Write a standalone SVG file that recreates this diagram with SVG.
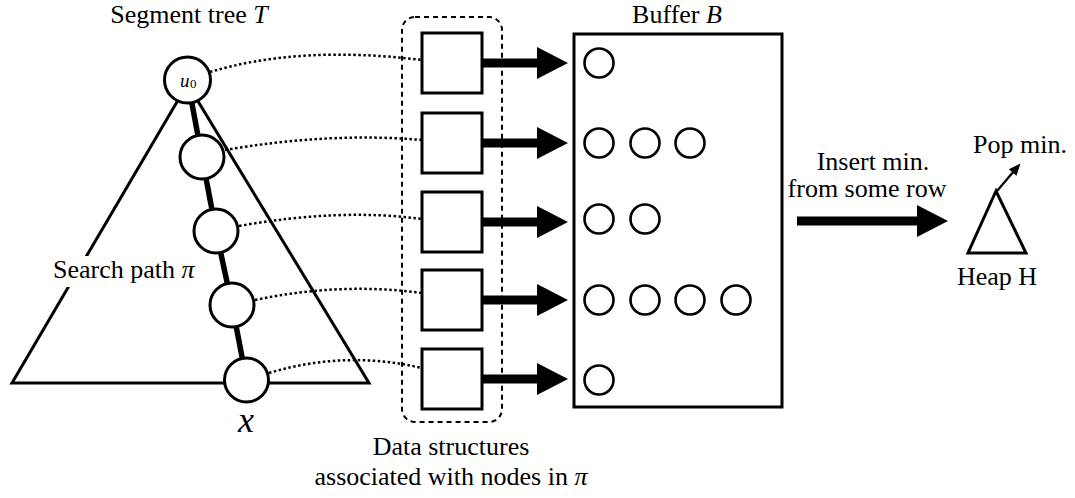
<svg xmlns="http://www.w3.org/2000/svg" width="1075" height="498" viewBox="0 0 1075 498">
<style>
  text { font-family: "Liberation Serif", "Times New Roman", serif; font-size: 26px; fill: #000; }
  .it { font-style: italic; }
  .tri { fill: none; stroke: #000; stroke-width: 3; stroke-linejoin: miter; }
  .pathln { stroke: #000; stroke-width: 5.5; }
  .tnode { fill: #fff; stroke: #000; stroke-width: 3; }
  .sq { fill: #fff; stroke: #000; stroke-width: 3; }
  .buf { fill: #fff; stroke: #000; stroke-width: 3; }
  .bc { fill: none; stroke: #000; stroke-width: 2.6; }
  .dot { fill: none; stroke: #000; stroke-width: 2.5; stroke-dasharray: 2.5 2.5; }
  .dash { fill: none; stroke: #000; stroke-width: 2; stroke-dasharray: 5 4; }
  .fat { stroke: #000; stroke-width: 9; fill: none; }
  .thin { stroke: #000; stroke-width: 2.2; fill: none; }
</style>
<defs>
  <marker id="head" markerUnits="userSpaceOnUse" markerWidth="31" markerHeight="32" refX="0" refY="16" orient="auto" overflow="visible">
    <path d="M0,0 L31,16 L0,32 Z" fill="#000"/>
  </marker>
  <marker id="small" markerUnits="userSpaceOnUse" markerWidth="12" markerHeight="10" refX="2" refY="5" orient="auto" overflow="visible">
    <path d="M0,0 L12,5 L0,10 Z" fill="#000"/>
  </marker>
</defs>
<rect width="1075" height="498" fill="#fff"/>

<!-- Segment tree -->
<g id="tree">
  <text x="189" y="23" text-anchor="middle">Segment tree <tspan class="it">T</tspan></text>
  <path class="tri" d="M187.5,84 L12,383 L369,383 Z"/>
  <rect x="48" y="256" width="150" height="31" fill="#fff"/>
  <text x="53" y="278">Search path <tspan class="it">π</tspan></text>
</g>

<!-- connectors -->
<g id="connectors">
  <line class="pathln" x1="187.5" y1="80" x2="202" y2="157"/>
  <line class="pathln" x1="202" y1="157" x2="216" y2="231"/>
  <line class="pathln" x1="216" y1="231" x2="232" y2="305"/>
  <line class="pathln" x1="232" y1="305" x2="246.5" y2="380"/>

  <path class="dot" d="M210,72 Q300,45 422,60"/>
  <path class="dot" d="M225,150 Q330,132 422,140"/>
  <path class="dot" d="M239,226 Q340,208 422,219"/>
  <path class="dot" d="M255,300 Q340,282 422,293"/>
  <path class="dot" d="M269,373 Q345,350 422,368"/>

  <line class="fat" x1="482" y1="63" x2="537" y2="63" marker-end="url(#head)"/>
  <line class="fat" x1="482" y1="143" x2="537" y2="143" marker-end="url(#head)"/>
  <line class="fat" x1="482" y1="222" x2="537" y2="222" marker-end="url(#head)"/>
  <line class="fat" x1="482" y1="300" x2="537" y2="300" marker-end="url(#head)"/>
  <line class="fat" x1="482" y1="379" x2="537" y2="379" marker-end="url(#head)"/>

  <line class="fat" x1="797" y1="221" x2="917" y2="221" marker-end="url(#head)"/>
  <line class="thin" x1="997" y1="191" x2="1014" y2="171" marker-end="url(#small)"/>
</g>

<!-- tree nodes -->
<g id="node-u0">
  <circle class="tnode" cx="187.5" cy="80" r="23"/>
  <text x="180" y="87" class="it" style="font-size:19px">u</text>
  <text x="190" y="88" style="font-size:13px">0</text>
</g>
<g id="node-1"><circle class="tnode" cx="202" cy="157" r="22"/></g>
<g id="node-2"><circle class="tnode" cx="216" cy="231" r="22"/></g>
<g id="node-3"><circle class="tnode" cx="232" cy="305" r="22"/></g>
<g id="node-x">
  <circle class="tnode" cx="246.5" cy="380" r="22"/>
  <text x="246" y="432" text-anchor="middle" class="it" style="font-size:36px">x</text>
</g>

<!-- data structures -->
<g id="data-structures">
  <rect class="dash" x="402" y="17" width="100" height="405" rx="13" ry="13"/>
  <rect class="sq" x="422" y="33" width="60" height="60"/>
  <rect class="sq" x="422" y="113" width="60" height="60"/>
  <rect class="sq" x="422" y="192" width="60" height="60"/>
  <rect class="sq" x="422" y="270" width="60" height="60"/>
  <rect class="sq" x="422" y="349" width="60" height="60"/>
  <text x="451" y="455" text-anchor="middle">Data structures</text>
  <text x="451" y="485" text-anchor="middle">associated with nodes in <tspan class="it">π</tspan></text>
</g>

<!-- buffer -->
<g id="buffer">
  <rect class="buf" x="574" y="34" width="208" height="373"/>
  <text x="677" y="23" text-anchor="middle">Buffer <tspan class="it">B</tspan></text>
  <circle class="bc" cx="599" cy="63" r="14.5"/>
  <circle class="bc" cx="599" cy="143" r="14.5"/>
  <circle class="bc" cx="645" cy="143" r="14.5"/>
  <circle class="bc" cx="690" cy="143" r="14.5"/>
  <circle class="bc" cx="599" cy="219" r="14.5"/>
  <circle class="bc" cx="645" cy="219" r="14.5"/>
  <circle class="bc" cx="599" cy="300" r="14.5"/>
  <circle class="bc" cx="645" cy="300" r="14.5"/>
  <circle class="bc" cx="690" cy="300" r="14.5"/>
  <circle class="bc" cx="736" cy="300" r="14.5"/>
  <circle class="bc" cx="599" cy="380" r="14.5"/>
</g>

<g id="insert-label">
  <text x="873" y="170" text-anchor="middle">Insert min.</text>
  <text x="867" y="197" text-anchor="middle">from some row</text>
</g>

<!-- heap -->
<g id="heap">
  <path class="tri" d="M996,191 L968,253 L1026,253 Z"/>
  <text x="1020" y="153" text-anchor="middle">Pop min.</text>
  <text x="997" y="285" text-anchor="middle">Heap H</text>
</g>
</svg>
